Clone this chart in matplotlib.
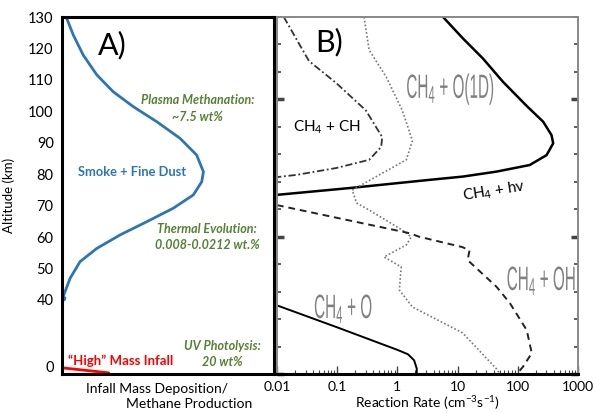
import numpy as np
import matplotlib
matplotlib.use('Agg')
import matplotlib.pyplot as plt
from matplotlib.patheffects import AbstractPathEffect
from matplotlib.transforms import Affine2D

plt.rcParams['font.family'] = ['Lato', 'DejaVu Sans']
plt.rcParams['mathtext.fontset'] = 'custom'
plt.rcParams['mathtext.rm'] = 'Lato'
plt.rcParams['mathtext.it'] = 'Lato:italic'
plt.rcParams['lines.solid_joinstyle'] = 'round'
plt.rcParams['lines.solid_capstyle'] = 'round'

# panel A: infall / methane production profile (arbitrary units)
smoke_alt = [129.6, 124.3, 117.9, 111.6, 106.2, 101.5, 96.7, 91.4, 86.1, 80.8, 77.6,
             73.4, 69.2, 64.9, 60.7, 56.4, 52.2, 46.9, 42.6, 40.5]
smoke_u = [0.022, 0.053, 0.100, 0.164, 0.242, 0.336, 0.447, 0.557, 0.635, 0.667, 0.659,
           0.619, 0.525, 0.400, 0.274, 0.164, 0.085, 0.038, 0.014, 0.003]
high_alt = [-0.5, -3.5]
high_u = [0.0, 0.22]
a_ticks = [0, 40, 50, 60, 70, 80, 90, 100, 110, 120, 130]

# panel B: reaction rates (cm-3 s-1) vs altitude (km)
hv_alt = [130.1, 122.2, 114.9, 106.4, 97.7, 91.9, 87.0, 84.0, 79.7, 76.1, 73.7, 71.9, 70.7, 67.7, 65.2]
hv_rate = [5.69, 12.3, 26.4, 56.9, 139.6, 264, 364, 388, 301, 158, 44.2, 12.3, 3.42, 0.158, 0.0096]
ch_alt = [130, 114, 106, 96, 86.3, 82.7, 78, 75, 72.5, 71.7]
ch_rate = [0.013, 0.034, 0.096, 0.30, 0.56, 0.54, 0.34, 0.096, 0.021, 0.01]
o1d_alt = [130, 118, 108, 96, 85, 78, 72.5, 67, 62.3, 59.7, 52.4, 49.9, 47, 42.6, 39, 30.6, 24.4, 15, 1.5, 0]
o1d_rate = [0.28, 0.34, 0.66, 1.21, 1.78, 1.41, 0.5, 0.178, 0.21, 0.34, 1.21, 1.7, 1.41, 0.6, 1.16, 1.08, 1.78, 12.1, 46, 50]
oh_alt = [61.5, 51.3, 50, 46.2, 45, 41.5, 31.7, 25.9, 16, 7.6, 2.5, 0]
oh_rate = [0.01, 1.58, 2.3, 12.1, 15.8, 14.7, 44.7, 73.6, 141, 171, 121, 96]
o_alt = [25, 17, 8.8, 7.2, 5, 2, 0]
o_rate = [0.01, 0.1, 1.0, 1.5, 1.9, 2.1, 2.1]
b_ticks = [0.01, 0.1, 1, 10, 100, 1000]
b_labels = ['0.01', '0.1', '1', '10', '100', '1000']

green = '#548235'
blue = '#2e75b6'
gray = '#808080'


class StretchY(AbstractPathEffect):
    # tall, narrow lettering as in the original figure
    def __init__(self, sy):
        super().__init__()
        self.sy = sy

    def draw_path(self, renderer, gc, tpath, affine, rgbFace=None):
        renderer.draw_path(gc, tpath, Affine2D().scale(1, self.sy) + affine, rgbFace)


def apos(alt):
    alt = np.asarray(alt, dtype=float)
    return np.where(alt >= 40, alt, 18.7 + alt * 21.3 / 40)


fig = plt.figure(figsize=(5.93, 4.13), dpi=100)
axa = fig.add_axes([0.1046, 0.0944, 0.3575, 0.8644])
axb = fig.add_axes([0.467, 0.0944, 0.5076, 0.8644])

# ---- panel A
axa.plot(smoke_u, apos(smoke_alt), color=blue, lw=2)
axa.plot(smoke_u[-1], apos(smoke_alt[-1]), 'o', color=blue, ms=3)
axa.plot(high_u, apos(high_alt), color='red', lw=2)
axa.set_xlim(0, 1)
axa.set_ylim(16.46, 130)
axa.set_yticks(apos(a_ticks))
axa.set_yticklabels([str(t) for t in a_ticks], fontsize=10.5)
axa.set_xticks([])
axa.tick_params(axis='y', length=0, pad=6)
for s in axa.spines.values():
    s.set_linewidth(2.2)
axa.set_ylabel('Altitude (km)', fontsize=9.5)
axa.yaxis.set_label_coords(-0.222, 0.5)

axa.text(0.235, 121, 'A)', fontsize=22, ha='center', va='center')
axa.text(0.64, 100.9, 'Plasma Methanation:\n~7.5 wt%', color=green, fontsize=9,
         fontweight='bold', fontstyle='italic', ha='center', va='center', linespacing=1.45)
axa.text(0.33, 80.7, 'Smoke + Fine Dust', color=blue, fontsize=9.3,
         fontweight='bold', ha='center', va='center')
axa.text(0.684, 60.0, 'Thermal Evolution:\n0.008-0.0212 wt.%', color=green, fontsize=9,
         fontweight='bold', fontstyle='italic', ha='center', va='center', linespacing=1.45)
axa.text(0.755, 22.8, 'UV Photolysis:\n20 wt%', color=green, fontsize=9,
         fontweight='bold', fontstyle='italic', ha='center', va='center', linespacing=1.45)
axa.text(0.278, 20.6, '\u201cHigh\u201d Mass Infall', color='red', fontsize=9.5,
         fontweight='bold', ha='center', va='center')

fig.text(157 / 593, 1 - 389 / 413, 'Infall Mass Deposition/', fontsize=10, ha='center', va='center')
fig.text(189 / 593, 1 - 404 / 413, 'Methane Production', fontsize=10, ha='center', va='center')

# ---- panel B
axb.plot(hv_rate, hv_alt, color='black', lw=1.8)
axb.plot(ch_rate, ch_alt, color='#333333', lw=1.3, ls=(0, (4, 1.5, 1, 1.5)))
axb.plot(o1d_rate, o1d_alt, color='#777777', lw=1.2, ls=(0, (1, 1.3)))
axb.plot(oh_rate, oh_alt, color='#222222', lw=1.4, ls=(0, (3.5, 2.5)))
axb.plot(o_rate, o_alt, color='black', lw=1.4)
axb.set_xscale('log')
axb.set_xlim(0.01, 1000)
axb.set_ylim(0, 130)
axb.set_xticks(b_ticks)
axb.set_xticklabels(b_labels, fontsize=10)
axb.set_yticks([0, 50, 100])
axb.set_yticks(np.arange(0, 131, 10), minor=True)
axb.set_yticklabels([])
axb.tick_params(axis='both', which='both', direction='in', color='#444444')
axb.tick_params(axis='y', which='both', left=True, right=True)
axb.tick_params(axis='y', which='major', length=5, width=2.5)
axb.tick_params(axis='y', which='minor', length=3, width=1.2)
axb.tick_params(axis='x', which='major', length=6, width=1, pad=5)
axb.tick_params(axis='x', which='minor', length=3, width=0.8)
for k in ['left', 'right', 'top']:
    axb.spines[k].set_color('#888888')
    axb.spines[k].set_linewidth(1.4)
axb.spines['bottom'].set_linewidth(2.2)
axb.set_xlabel('Reaction Rate (cm$^{-3}$s$^{-1}$)', fontsize=10, labelpad=1)

axb.text(0.0736, 120.9, 'B)', fontsize=22, ha='center', va='center')
axb.text(0.068, 90, 'CH$_4$ + CH', fontsize=11, ha='center', va='center')
axb.text(41, 66.3, 'CH$_4$ + hv', fontsize=11, rotation=9, ha='center', va='center')

tall = [StretchY(2.2)]
axb.text(1.41, 100.5, 'CH$_4$ + O(1D)', fontsize=11, color=gray, family='Liberation Sans',
         ha='left', va='baseline', path_effects=tall)
axb.text(65.6, 30.6, 'CH$_4$ + OH', fontsize=11, color=gray, family='Liberation Sans',
         ha='left', va='baseline', path_effects=tall)
axb.text(0.0414, 20.4, 'CH$_4$ + O', fontsize=11, color=gray, family='Liberation Sans',
         ha='left', va='baseline', path_effects=tall)

fig.savefig('out.png', dpi=100)
